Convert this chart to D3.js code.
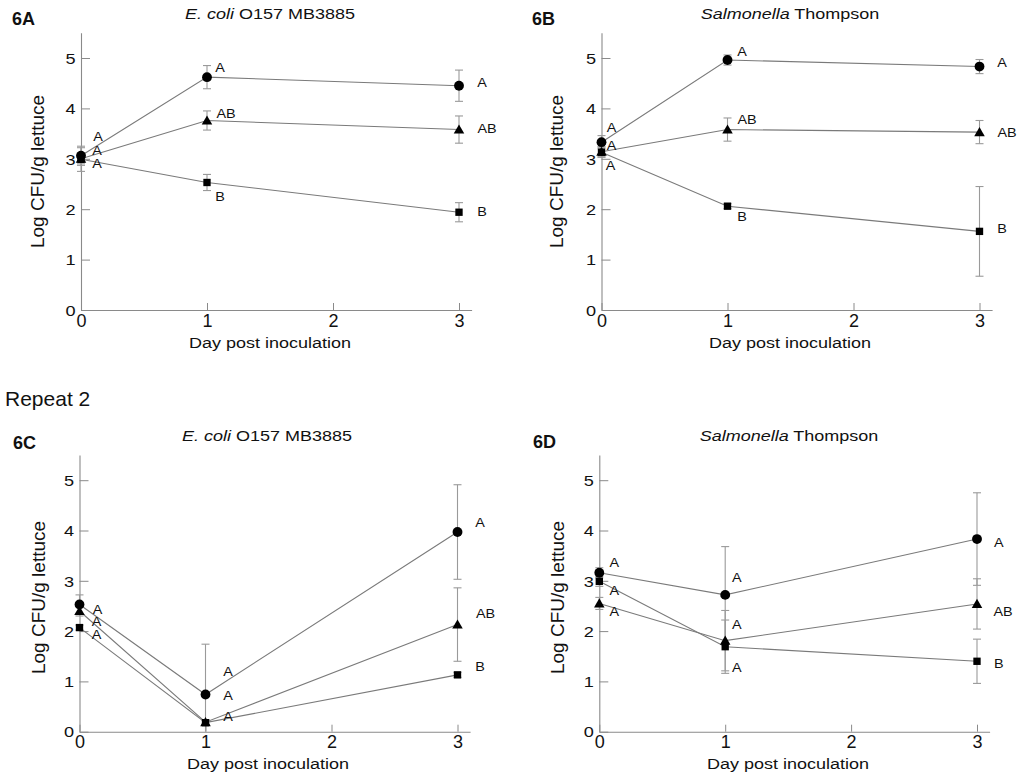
<!DOCTYPE html>
<html><head><meta charset="utf-8">
<script src="https://cdn.jsdelivr.net/npm/d3@7"></script>
<style>
html,body{margin:0;padding:0;background:#fff;}
svg{display:block;font-family:"Liberation Sans",Arial,sans-serif;}
</style></head>
<body>
<svg id="chart" width="1024" height="780"></svg>
<script>
// ---------------- DATA ----------------
const days = [0, 1, 3];
const xTicks = [0, 1, 2, 3];
const yTicks = [0, 1, 2, 3, 4, 5];
const panelIds = ["6A", "6B", "6C", "6D"];
const titleItalic = ["E. coli", "Salmonella", "E. coli", "Salmonella"];
const titleRest = [" O157 MB3885", " Thompson", " O157 MB3885", " Thompson"];
const xLabel = "Day post inoculation";
const yLabel = "Log CFU/g lettuce";
const sectionLabel = "Repeat 2";

// Panel 6A
const aCircle = [3.06, 4.62, 4.45];
const aCircleErr = [0.16, 0.23, 0.31];
const aCircleLetters = ["A", "A", "A"];
const aTriangle = [3.00, 3.76, 3.58];
const aTriangleErr = [0.25, 0.19, 0.27];
const aTriangleLetters = ["A", "AB", "AB"];
const aSquare = [2.99, 2.53, 1.94];
const aSquareErr = [0.12, 0.16, 0.19];
const aSquareLetters = ["A", "B", "B"];

// Panel 6B
const bCircle = [3.33, 4.96, 4.83];
const bCircleErr = [0.13, 0.10, 0.14];
const bCircleLetters = ["A", "A", "A"];
const bTriangle = [3.14, 3.58, 3.53];
const bTriangleErr = [0.10, 0.23, 0.23];
const bTriangleLetters = ["A", "AB", "AB"];
const bSquare = [3.13, 2.06, 1.56];
const bSquareErr = [0.10, 0.05, 0.89];
const bSquareLetters = ["A", "B", "B"];

// Panel 6C
const cCircle = [2.53, 0.74, 3.97];
const cCircleErr = [0.19, 1.00, 0.94];
const cCircleLetters = ["A", "A", "A"];
const cTriangle = [2.40, 0.19, 2.13];
const cTriangleErr = [0.10, 0.05, 0.73];
const cTriangleLetters = ["A", "A", "AB"];
const cSquare = [2.07, 0.18, 1.13];
const cSquareErr = [0.05, 0.05, 0.05];
const cSquareLetters = ["A", "A", "B"];

// Panel 6D
const dCircle = [3.16, 2.72, 3.83];
const dCircleErr = [0.10, 0.96, 0.92];
const dCircleLetters = ["A", "A", "A"];
const dTriangle = [2.55, 1.81, 2.54];
const dTriangleErr = [0.12, 0.60, 0.50];
const dTriangleLetters = ["A", "A", "AB"];
const dSquare = [2.99, 1.69, 1.40];
const dSquareErr = [0.10, 0.53, 0.44];
const dSquareLetters = ["A", "A", "B"];

// ---------------- LAYOUT ----------------
const shapes = [d3.symbolCircle, d3.symbolTriangle, d3.symbolSquare];
const shapeSizes = [76, 48, 54];
const panelLayout = [
  {x0: 81,    y0: 310,   ux: 126,   uy: 50.4, titleX: 270, titleY: 18.5, idX: 12,  idY: 24.5, xlX: 270, xlY: 347.5, ylX: 37.5,  ylY: 171.5},
  {x0: 601.5, y0: 310,   ux: 126,   uy: 50.4, titleX: 790, titleY: 18.5, idX: 532, idY: 24.5, xlX: 790, xlY: 347.5, ylX: 556.5, ylY: 171.5},
  {x0: 79.5,  y0: 731.7, ux: 126,   uy: 50.3, titleX: 267, titleY: 440.5, idX: 13, idY: 449, xlX: 268, xlY: 769, ylX: 38.5,  ylY: 597.5},
  {x0: 599.3, y0: 731.7, ux: 125.9, uy: 50.3, titleX: 789, titleY: 440.5, idX: 533, idY: 448, xlX: 788, xlY: 769, ylX: 557.5, ylY: 597.5}
];
// letter label offsets (px) from each point: [circle, triangle, square] x [day0, day1, day3]
const letterOffsets = [
  [[[17,-19],[13,-9],[23,-3]], [[16,-8],[19,-6.5],[28,-0.6]], [[16,5],[13,14.5],[23,0]]],
  [[[10,-14.5],[14.5,-8.3],[22.5,-3.3]], [[10,-6],[19.5,-9.6],[27.5,0.6]], [[9,13.5],[14.5,10.8],[22.5,-2.4]]],
  [[[18,5.6],[22.5,-22.5],[22.5,-9]], [[17,10.7],[22.5,-26],[28,-10.6]], [[17,7.4],[22.5,-6],[22.5,-8.2]]],
  [[[15,-10],[11.7,-16.6],[21.7,3.6]], [[15,8.9],[11.7,-15.7],[26,7.8]], [[15,9.4],[11.7,21.6],[21.7,3]]]
];

const panels = [
  {series: [[aCircle, aCircleErr, aCircleLetters], [aTriangle, aTriangleErr, aTriangleLetters], [aSquare, aSquareErr, aSquareLetters]]},
  {series: [[bCircle, bCircleErr, bCircleLetters], [bTriangle, bTriangleErr, bTriangleLetters], [bSquare, bSquareErr, bSquareLetters]]},
  {series: [[cCircle, cCircleErr, cCircleLetters], [cTriangle, cTriangleErr, cTriangleLetters], [cSquare, cSquareErr, cSquareLetters]]},
  {series: [[dCircle, dCircleErr, dCircleLetters], [dTriangle, dTriangleErr, dTriangleLetters], [dSquare, dSquareErr, dSquareLetters]]}
];

const SX = 1.2; // horizontal text stretch seen in the figure
const svg = d3.select("#chart");

svg.append("text")
  .attr("x", 5).attr("y", 405.5)
  .attr("font-size", 21).attr("fill", "#111")
  .text(sectionLabel);

panels.forEach((p, pi) => {
  const L = panelLayout[pi];
  const x = d3.scaleLinear().domain([0, 3.1]).range([L.x0, L.x0 + 3.1 * L.ux]);
  const y = d3.scaleLinear().domain([0, 5.5]).range([L.y0, L.y0 - 5.5 * L.uy]);
  const g = svg.append("g");

  // axes
  const xa = g.append("g").attr("transform", `translate(0,${L.y0})`)
    .call(d3.axisBottom(x).tickValues(xTicks).tickFormat(d3.format("d")).tickSize(-7).tickSizeOuter(0).tickPadding(4));
  const ya = g.append("g").attr("transform", `translate(${L.x0},0)`)
    .call(d3.axisLeft(y).tickValues(yTicks).tickFormat(d3.format("d")).tickSize(-9).tickSizeOuter(0).tickPadding(5));
  [xa, ya].forEach(a => {
    a.select(".domain").attr("stroke", "#8a8a8a").attr("stroke-width", 1.1);
    a.selectAll(".tick line").attr("stroke", "#8a8a8a");
    a.selectAll(".tick text").attr("fill", "#111")
      .attr("font-family", "Liberation Sans, Arial, sans-serif");
  });
  ya.selectAll(".tick text").attr("font-size", 14.5).attr("x", -5.5 / 1.25).attr("dy", "0.36em")
    .attr("transform", "scale(1.25,1)");
  xa.selectAll(".tick text").attr("font-size", 18).attr("dy", "0.71em");

  // titles
  const t = g.append("text").attr("text-anchor", "middle").attr("font-size", 15).attr("fill", "#111")
    .attr("transform", `translate(${L.titleX},${L.titleY}) scale(${SX},1)`);
  t.append("tspan").attr("font-style", "italic").text(titleItalic[pi]);
  t.append("tspan").text(titleRest[pi]);

  g.append("text").attr("x", L.idX).attr("y", L.idY).attr("font-size", 18).attr("font-weight", "bold")
    .attr("fill", "#111").text(panelIds[pi]);

  g.append("text").attr("text-anchor", "middle").attr("font-size", 15).attr("fill", "#111")
    .attr("transform", `translate(${L.xlX},${L.xlY}) scale(${SX},1)`).text(xLabel);

  g.append("text").attr("text-anchor", "middle").attr("dominant-baseline", "central")
    .attr("font-size", 19).attr("fill", "#111")
    .attr("transform", `translate(${L.ylX},${L.ylY}) rotate(-90)`).text(yLabel);

  const line = d3.line().x((d, i) => x(days[i])).y(d => y(d));

  // connecting lines
  p.series.forEach(s => {
    g.append("path").attr("d", line(s[0])).attr("fill", "none")
      .attr("stroke", "#7a7a7a").attr("stroke-width", 1.1);
  });

  // error bars
  p.series.forEach(s => {
    s[0].forEach((v, i) => {
      const e = s[1][i];
      const xx = x(days[i]);
      const top = y(v + e), bot = y(Math.max(0, v - e));
      g.append("line").attr("x1", xx).attr("x2", xx).attr("y1", top).attr("y2", bot)
        .attr("stroke", "#9a9a9a").attr("stroke-width", 1.1);
      [top, bot].forEach(yy => {
        if (Math.abs(yy - L.y0) < 0.5) return;
        g.append("line").attr("x1", xx - 4).attr("x2", xx + 4).attr("y1", yy).attr("y2", yy)
          .attr("stroke", "#9a9a9a").attr("stroke-width", 1.1);
      });
    });
  });

  // markers
  p.series.forEach((s, si) => {
    const sym = d3.symbol().type(shapes[si]).size(shapeSizes[si]);
    s[0].forEach((v, i) => {
      const dy = si === 1 ? 1 : 0;
      g.append("path").attr("d", sym())
        .attr("transform", `translate(${x(days[i])},${y(v) + dy})`)
        .attr("fill", "#000");
    });
  });

  // significance letters
  p.series.forEach((s, si) => {
    s[0].forEach((v, i) => {
      const off = letterOffsets[pi][si][i];
      g.append("text").attr("text-anchor", "middle").attr("dominant-baseline", "central")
        .attr("font-size", 12).attr("fill", "#111")
        .attr("transform", `translate(${x(days[i]) + off[0]},${y(v) + off[1]}) scale(${SX},1)`)
        .text(s[2][i]);
    });
  });
});
</script>
</body></html>
